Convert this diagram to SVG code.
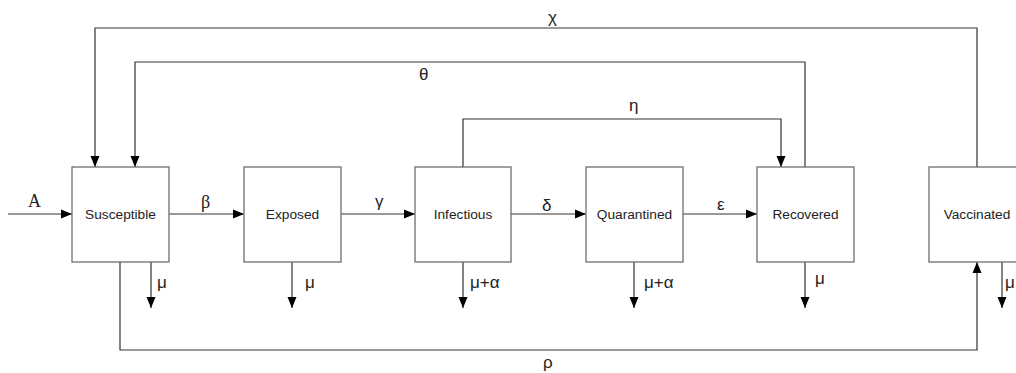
<svg xmlns="http://www.w3.org/2000/svg" width="1016" height="373" viewBox="0 0 1016 373">
<style>
.box{fill:#ffffff;stroke:#6e6e6e;stroke-width:1.3}
.nt{font-family:"Liberation Sans",Arial,sans-serif;font-size:13.7px;fill:#222;text-anchor:middle}
.ln{fill:none;stroke:#333;stroke-width:1.2}
.gl{font-family:"Liberation Sans",Arial,sans-serif;font-size:17px;fill:#222}
.gs{font-family:"Liberation Serif","Times New Roman",serif;font-size:18px;fill:#222}
</style>
<defs>
<marker id="ah" markerUnits="userSpaceOnUse" markerWidth="12" markerHeight="12" viewBox="0 0 12 12" refX="11" refY="6" orient="auto">
<path d="M0,1.5 L11,6 L0,10.5 Z" fill="#000"/>
</marker>
</defs>
<rect width="1016" height="373" fill="#ffffff"/>
<g id="connectors">
<path class="ln" d="M8,214 H72" marker-end="url(#ah)"/>
<path class="ln" d="M169,214 H244" marker-end="url(#ah)"/>
<path class="ln" d="M341,214 H415" marker-end="url(#ah)"/>
<path class="ln" d="M511,214 H586" marker-end="url(#ah)"/>
<path class="ln" d="M683,214 H757" marker-end="url(#ah)"/>
<path class="ln" d="M151,262 V308" marker-end="url(#ah)"/>
<path class="ln" d="M292,262 V308" marker-end="url(#ah)"/>
<path class="ln" d="M463,262 V308" marker-end="url(#ah)"/>
<path class="ln" d="M634,262 V308" marker-end="url(#ah)"/>
<path class="ln" d="M805,262 V308" marker-end="url(#ah)"/>
<path class="ln" d="M1002,262 V308" marker-end="url(#ah)"/>
<path class="ln" d="M120,262 V350 H977 V262" marker-end="url(#ah)"/>
<path class="ln" d="M977,167 V28 H95 V167" marker-end="url(#ah)"/>
<path class="ln" d="M805,167 V62 H135 V167" marker-end="url(#ah)"/>
<path class="ln" d="M463,167 V119 H781 V167" marker-end="url(#ah)"/>
<text class="gs" x="28" y="207">A</text>
<text class="gs" x="201" y="208">β</text>
<text class="gl" x="375" y="207">γ</text>
<text class="gl" x="542" y="211">δ</text>
<text class="gl" x="717" y="210">ε</text>
<text class="gl" x="157" y="288">μ</text>
<text class="gl" x="305" y="288">μ</text>
<text class="gl" x="470" y="288">μ+α</text>
<text class="gl" x="644" y="288">μ+α</text>
<text class="gl" x="815" y="284">μ</text>
<text class="gl" x="1005" y="288">μ</text>
<text class="gl" x="548" y="23">χ</text>
<text class="gl" x="419" y="80">θ</text>
<text class="gl" x="629" y="111">η</text>
<text class="gl" x="543" y="368">ρ</text>
</g>
<g id="susceptible"><rect class="box" x="72" y="167" width="97" height="95"/><text class="nt" x="120.5" y="219">Susceptible</text></g>
<g id="exposed"><rect class="box" x="244" y="167" width="97" height="95"/><text class="nt" x="292.5" y="219">Exposed</text></g>
<g id="infectious"><rect class="box" x="415" y="167" width="96" height="95"/><text class="nt" x="463" y="219">Infectious</text></g>
<g id="quarantined"><rect class="box" x="586" y="167" width="97" height="95"/><text class="nt" x="634.5" y="219">Quarantined</text></g>
<g id="recovered"><rect class="box" x="757" y="167" width="97" height="95"/><text class="nt" x="805.5" y="219">Recovered</text></g>
<g id="vaccinated"><rect class="box" x="929" y="167" width="97" height="95"/><text class="nt" x="977" y="219">Vaccinated</text></g>
</svg>
